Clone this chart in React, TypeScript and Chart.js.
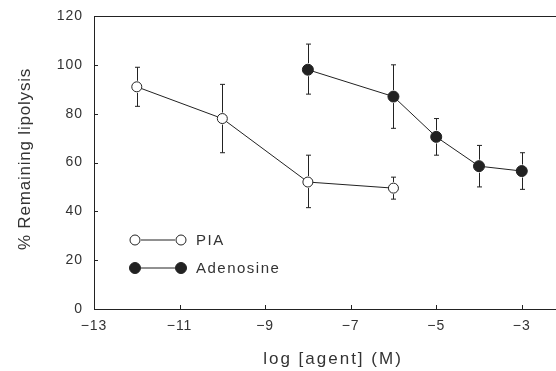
import React, { useEffect, useRef } from "react";
import { Chart, registerables } from "chart.js";

Chart.register(...registerables);

// log concentration of agent (M)
const X_PIA = [-12, -10, -8, -6];
const PIA = [91, 78, 52, 49.5];
const PIA_HI = [99, 92, 63, 54];
const PIA_LO = [83, 64, 41.5, 45];

const X_ADO = [-8, -6, -5, -4, -3];
const ADO = [98, 87, 70.5, 58.5, 56.5];
const ADO_HI = [108.5, 100, 78, 67, 64];
const ADO_LO = [88, 74, 63, 50, 49];

const X_TICKS = [-13, -11, -9, -7, -5, -3];
const Y_TICKS = [0, 20, 40, 60, 80, 100, 120];

const SERIES_NAMES = ["PIA", "Adenosine"];
const X_TITLE = "log [agent] (M)";
const Y_TITLE = "% Remaining lipolysis";

const INK = "#222";
const TEXT = "#333";
const FONT = "'Liberation Sans', Arial, sans-serif";

const fmt = (v: number) => (v < 0 ? "\u2212" + Math.abs(v) : String(v));

const errorBars = {
  id: "errorBars",
  afterDatasetsDraw(chart: any) {
    const ctx = chart.ctx;
    const y = chart.scales.y;
    const bounds = [
      [PIA_HI, PIA_LO],
      [ADO_HI, ADO_LO],
    ];
    ctx.save();
    ctx.strokeStyle = INK;
    ctx.lineWidth = 1;
    chart.data.datasets.forEach((ds: any, i: number) => {
      const meta = chart.getDatasetMeta(i);
      const r = (ds.pointRadius || 5) + 1;
      meta.data.forEach((pt: any, j: number) => {
        const hi = y.getPixelForValue(bounds[i][0][j]);
        const lo = y.getPixelForValue(bounds[i][1][j]);
        const x = Math.round(pt.x) + 0.5;
        ctx.beginPath();
        if (hi < pt.y - r) {
          ctx.moveTo(x, pt.y - r);
          ctx.lineTo(x, hi);
          ctx.moveTo(x - 2.5, hi);
          ctx.lineTo(x + 2.5, hi);
        }
        if (lo > pt.y + r) {
          ctx.moveTo(x, pt.y + r);
          ctx.lineTo(x, lo);
          ctx.moveTo(x - 2.5, lo);
          ctx.lineTo(x + 2.5, lo);
        }
        ctx.stroke();
      });
    });
    ctx.restore();
  },
};

const frame = {
  id: "frame",
  beforeLayout(chart: any) {
    chart.ctx.letterSpacing = "1px";
  },
  beforeDraw(chart: any) {
    chart.ctx.letterSpacing = "1px";
  },
  afterDraw(chart: any) {
    const ctx = chart.ctx;
    const { left, right, top, bottom } = chart.chartArea;
    const xs = chart.scales.x;
    const ys = chart.scales.y;
    ctx.save();
    ctx.strokeStyle = INK;
    ctx.lineWidth = 1;
    ctx.beginPath();
    // top, left and bottom frame lines
    ctx.moveTo(left, top + 0.5);
    ctx.lineTo(right, top + 0.5);
    ctx.moveTo(left + 0.5, top);
    ctx.lineTo(left + 0.5, bottom);
    ctx.moveTo(left, bottom + 0.5);
    ctx.lineTo(right, bottom + 0.5);
    // inward tick marks
    X_TICKS.forEach((v) => {
      const px = Math.round(xs.getPixelForValue(v)) + 0.5;
      ctx.moveTo(px, bottom);
      ctx.lineTo(px, bottom - 4);
    });
    Y_TICKS.forEach((v) => {
      const py = Math.round(ys.getPixelForValue(v)) + 0.5;
      ctx.moveTo(left, py);
      ctx.lineTo(left + 4, py);
    });
    ctx.stroke();

    // axis titles
    ctx.fillStyle = TEXT;
    ctx.font = `17px ${FONT}`;
    ctx.textBaseline = "alphabetic";
    ctx.textAlign = "center";
    ctx.letterSpacing = "2px";
    ctx.fillText(X_TITLE, 333, 364);
    ctx.letterSpacing = "0.8px";
    ctx.save();
    ctx.translate(30, 159);
    ctx.rotate(-Math.PI / 2);
    ctx.fillText(Y_TITLE, 0, 0);
    ctx.restore();

    // legend
    const rows = [
      { y: 240, fill: "#fff", r: 5, name: SERIES_NAMES[0] },
      { y: 268, fill: INK, r: 5.5, name: SERIES_NAMES[1] },
    ];
    rows.forEach((row) => {
      ctx.beginPath();
      ctx.moveTo(141, row.y);
      ctx.lineTo(175, row.y);
      ctx.stroke();
      [135, 181].forEach((cx) => {
        ctx.beginPath();
        ctx.arc(cx, row.y, row.r, 0, Math.PI * 2);
        ctx.fillStyle = row.fill;
        ctx.fill();
        ctx.stroke();
      });
      ctx.fillStyle = TEXT;
      ctx.font = `15px ${FONT}`;
      ctx.letterSpacing = "1.5px";
      ctx.textAlign = "left";
      ctx.textBaseline = "middle";
      ctx.fillText(row.name, 196, row.y + 1);
    });
    ctx.restore();
  },
};

export default function App() {
  const ref = useRef<HTMLCanvasElement | null>(null);

  useEffect(() => {
    document.body.style.margin = "0";
    const canvas = ref.current;
    if (!canvas) return;
    const chart = new Chart(canvas, {
      type: "scatter",
      data: {
        datasets: [
          {
            label: SERIES_NAMES[0],
            data: X_PIA.map((x, i) => ({ x, y: PIA[i] })),
            showLine: true,
            borderColor: INK,
            borderWidth: 1,
            pointRadius: 5,
            pointBorderWidth: 1,
            pointBackgroundColor: "#fff",
            pointBorderColor: INK,
          },
          {
            label: SERIES_NAMES[1],
            data: X_ADO.map((x, i) => ({ x, y: ADO[i] })),
            showLine: true,
            borderColor: INK,
            borderWidth: 1,
            pointRadius: 5.5,
            pointBorderWidth: 1,
            pointBackgroundColor: INK,
            pointBorderColor: INK,
          },
        ],
      },
      options: {
        animation: false,
        responsive: false,
        devicePixelRatio: 1,
        layout: { autoPadding: false, padding: { top: 16, right: 0, left: 0, bottom: 0 } },
        plugins: { legend: { display: false }, tooltip: { enabled: false } },
        scales: {
          x: {
            type: "linear",
            min: -13,
            max: -2.2,
            afterBuildTicks: (s: any) => {
              s.ticks = X_TICKS.map((value) => ({ value }));
            },
            afterFit: (s: any) => {
              s.height = 62;
              s.paddingLeft = 0;
              s.paddingRight = 0;
            },
            grid: { display: false, drawTicks: false },
            border: { display: false },
            ticks: {
              padding: 9,
              color: TEXT,
              font: { family: FONT, size: 14 },
              callback: (v: any) => fmt(Number(v)),
            },
          },
          y: {
            type: "linear",
            min: 0,
            max: 120,
            afterBuildTicks: (s: any) => {
              s.ticks = Y_TICKS.map((value) => ({ value }));
            },
            afterFit: (s: any) => {
              s.width = 94;
              s.paddingTop = 0;
              s.paddingBottom = 0;
            },
            grid: { display: false, drawTicks: false },
            border: { display: false },
            ticks: {
              padding: 11,
              color: TEXT,
              font: { family: FONT, size: 14 },
              callback: (v: any) => fmt(Number(v)),
            },
          },
        },
      },
      plugins: [errorBars, frame],
    } as any);
    return () => chart.destroy();
  }, []);

  return (
    <div style={{ position: "absolute", left: 0, top: 0, width: 556, height: 371, background: "#fff" }}>
      <canvas ref={ref} width={556} height={371} style={{ display: "block", width: 556, height: 371 }} />
    </div>
  );
}
